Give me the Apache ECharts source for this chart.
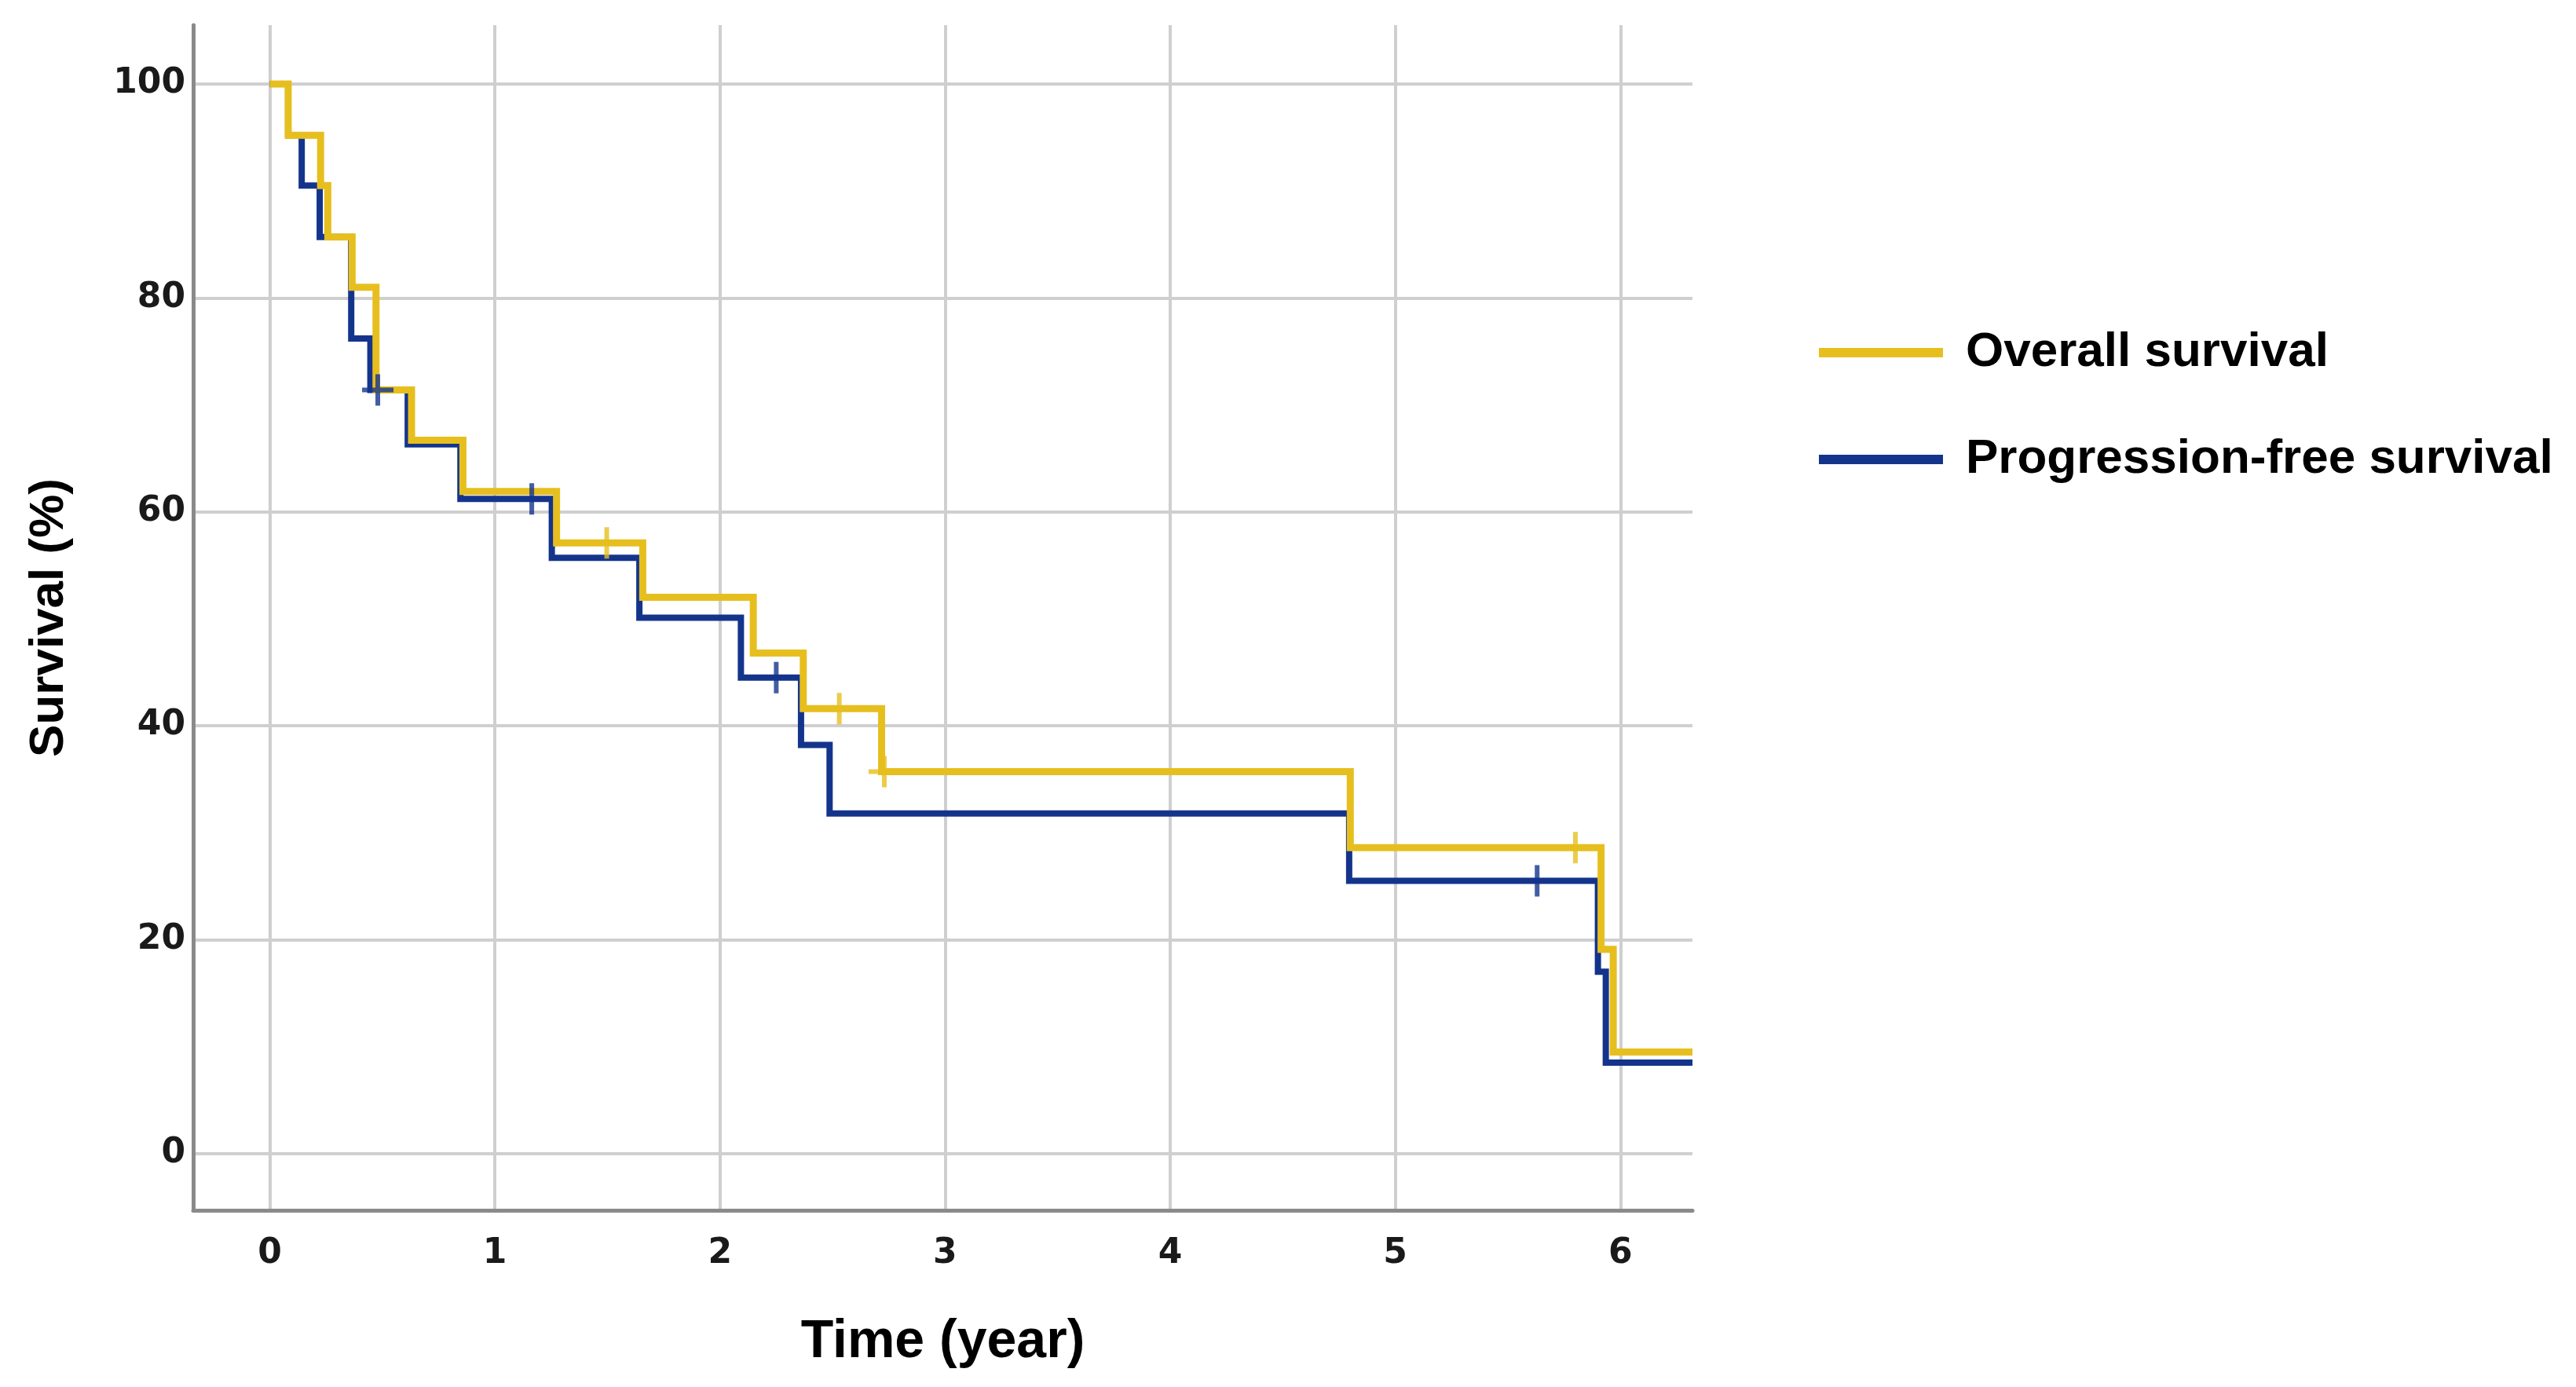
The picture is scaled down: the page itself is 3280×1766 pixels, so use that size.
<!DOCTYPE html>
<html>
<head>
<meta charset="utf-8">
<script src="https://cdn.jsdelivr.net/npm/echarts@6/dist/echarts.min.js"></script>
<style>html,body{margin:0;padding:0;background:#fff;}#c{width:3280px;height:1766px;}</style>
</head>
<body>
<div id="c"></div>
<script>
// ---- data ----
const xTicks = [0, 1, 2, 3, 4, 5, 6];
const yTicks = [0, 20, 40, 60, 80, 100];

const osTimes  = [0, 0.082, 0.226, 0.258, 0.366, 0.472, 0.630, 0.858, 1.274, 1.657, 2.148, 2.370, 2.718, 4.800, 5.914, 5.968, 6.32];
const osValues = [100, 95.2, 90.5, 85.7, 81.0, 71.4, 66.7, 61.9, 57.1, 52.0, 46.8, 41.6, 35.7, 28.6, 19.1, 9.5, 9.5];
const osCensorTimes  = [1.497, 2.53, 2.73, 5.80];
const osCensorValues = [57.1, 41.6, 35.7, 28.6];

const pfsTimes  = [0, 0.082, 0.142, 0.222, 0.362, 0.447, 0.613, 0.847, 1.253, 1.642, 2.093, 2.360, 2.487, 4.795, 5.900, 5.935, 6.32];
const pfsValues = [100, 95.2, 90.5, 85.7, 76.2, 71.4, 66.3, 61.2, 55.7, 50.1, 44.5, 38.2, 31.8, 25.5, 17.0, 8.5, 8.5];
const pfsCensorTimes  = [0.48, 1.164, 2.25, 5.63];
const pfsCensorValues = [71.4, 61.2, 44.5, 25.5];

const seriesNames = ['Overall survival', 'Progression-free survival'];
// ----------------------------------------

const zip = (a, b) => a.map((v, i) => [v, b[i]]);
const OS_COLOR = '#E6BF1F';
const PFS_COLOR = '#14348C';
const plus = 'path://M17,0 H23 V17 H40 V23 H23 V40 H17 V23 H0 V17 H17 Z';

const chart = echarts.init(document.getElementById('c'));
chart.setOption({
  backgroundColor: '#ffffff',
  animation: false,
  grid: { left: 246, right: 1125, top: 32, bottom: 225, containLabel: false },
  legend: {
    data: seriesNames,
    orient: 'vertical',
    left: 2311,
    top: 413,
    itemGap: 74,
    itemWidth: 158,
    itemHeight: 12,
    icon: 'rect',
    textStyle: { fontFamily: 'Liberation Sans', fontWeight: 'bold', fontSize: 62, color: '#000', padding: [0, 0, 0, 24] }
  },
  xAxis: {
    type: 'value',
    min: -0.34,
    max: 6.32,
    name: 'Time (year)',
    nameLocation: 'middle',
    nameGap: 134,
    nameTextStyle: { fontFamily: 'Liberation Sans', fontWeight: 'bold', fontSize: 68, color: '#000' },
    axisLine: { onZero: false, lineStyle: { color: '#8a8a8a', width: 5 } },
    axisTick: { show: false, customValues: xTicks },
    axisLabel: { customValues: xTicks, margin: 34, fontFamily: 'DejaVu Sans', fontWeight: 'bold', fontSize: 44, color: '#1a1a1a' },
    splitLine: { show: true, lineStyle: { color: '#cfcfcf', width: 4 } }
  },
  yAxis: {
    type: 'value',
    min: -5.3,
    max: 105.5,
    name: 'Survival (%)',
    nameLocation: 'middle',
    nameGap: 152,
    nameTextStyle: { fontFamily: 'Liberation Sans', fontWeight: 'bold', fontSize: 62, color: '#000' },
    axisLine: { onZero: false, lineStyle: { color: '#8a8a8a', width: 5 } },
    axisTick: { show: false, customValues: yTicks },
    axisLabel: { customValues: yTicks, margin: 10, fontFamily: 'DejaVu Sans', fontWeight: 'bold', fontSize: 44, color: '#1a1a1a' },
    splitLine: { show: true, lineStyle: { color: '#cfcfcf', width: 4 } }
  },
  series: [
    {
      name: seriesNames[1], type: 'line', step: 'end', showSymbol: false, symbol: 'none',
      data: zip(pfsTimes, pfsValues), z: 2,
      lineStyle: { color: PFS_COLOR, width: 8, join: 'miter' }, itemStyle: { color: PFS_COLOR }
    },
    {
      name: seriesNames[0], type: 'line', step: 'end', showSymbol: false, symbol: 'none',
      data: zip(osTimes, osValues), z: 3,
      lineStyle: { color: OS_COLOR, width: 9, join: 'miter' }, itemStyle: { color: OS_COLOR }
    },
    {
      name: 'pfs-censor', type: 'scatter', symbol: plus, symbolSize: [40, 40],
      data: zip(pfsCensorTimes, pfsCensorValues), z: 5,
      itemStyle: { color: PFS_COLOR }
    },
    {
      name: 'os-censor', type: 'scatter', symbol: plus, symbolSize: [40, 40],
      data: zip(osCensorTimes, osCensorValues), z: 4,
      itemStyle: { color: OS_COLOR }
    }
  ]
});
</script>
</body>
</html>
